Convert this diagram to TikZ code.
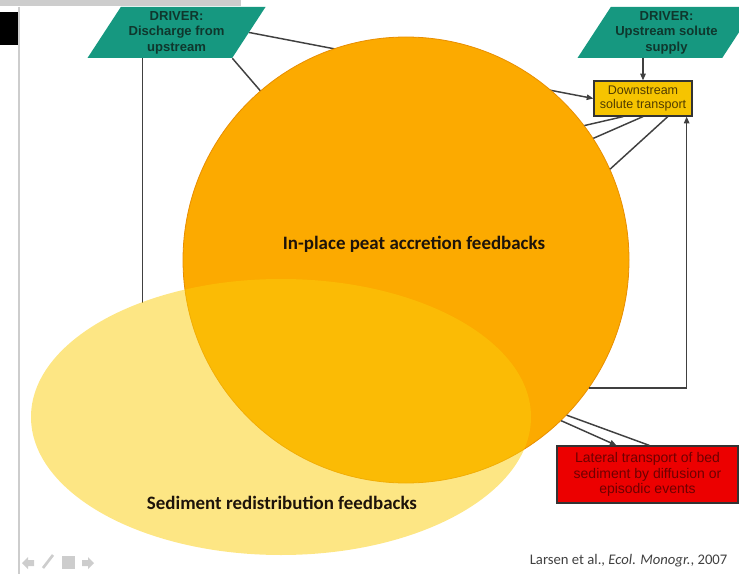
\documentclass[tikz,border=0pt]{standalone}
\usepackage{fontspec}
\setmainfont{Carlito}
\newfontfamily\boxfont{Liberation Sans}
\usetikzlibrary{shapes.geometric,arrows.meta,calc}

\definecolor{drivergreen}{RGB}{22,152,128}
\definecolor{drivertext}{RGB}{15,55,45}
\definecolor{peatorange}{RGB}{252,170,0}
\definecolor{peatedge}{RGB}{232,142,0}
\definecolor{sedyellow}{RGB}{251,205,10}
\definecolor{soluteyellow}{RGB}{246,196,0}
\definecolor{solutetext}{RGB}{80,60,0}
\definecolor{lateralred}{RGB}{236,0,0}
\definecolor{lateraltext}{RGB}{110,0,0}
\definecolor{wiregray}{RGB}{64,64,64}
\definecolor{framegray}{RGB}{205,205,205}

\begin{document}
\begin{tikzpicture}[x=0.75pt,y=-0.75pt,
    >={Triangle[length=5pt,width=4pt]},
    wire/.style={draw=wiregray, line width=1.1pt},
    driver/.style={trapezium, trapezium left angle=52, trapezium right angle=128,
        trapezium stretches body, fill=drivergreen, inner sep=0pt,
        minimum width={178*0.75pt}, minimum height={51*0.75pt}, align=center,
        text=drivertext, font=\boxfont\bfseries\fontsize{9.8}{11.6}\selectfont},
    solutebox/.style={rectangle, fill=soluteyellow, draw=black!80, line width=0.9pt,
        minimum width={98*0.75pt}, minimum height={35*0.75pt}, inner sep=1pt,
        align=center, text=solutetext, font=\boxfont\fontsize{9.4}{11.2}\selectfont},
    lateralbox/.style={rectangle, fill=lateralred, draw=black!80, line width=0.9pt,
        minimum width={181*0.75pt}, minimum height={57*0.75pt}, inner sep=1pt,
        align=center, text=lateraltext, font=\boxfont\fontsize{10.5}{11.4}\selectfont},
    feedback/.style={font=\bfseries\fontsize{14.2}{17}\selectfont, text=black!85!brown}
  ]
  \useasboundingbox (0,0) rectangle (739,574);

  % slide frame
  \fill[framegray] (0,0) rectangle (241,6);
  \fill[black] (0,12) rectangle (18,45);
  \draw[framegray, line width=1.2pt] (19,7) -- (19,574);

  % drivers and boxes
  \node[driver] (dis) at (176.5,32.5) {DRIVER:\\Discharge from\\upstream};
  \node[driver] (sup) at (666.5,32.5) {DRIVER:\\Upstream solute\\supply};
  \node[solutebox] (down) at (643,98.5) {Downstream\\solute transport};
  \node[lateralbox] (lat) at (647.5,474.5) {Lateral transport of bed\\sediment by diffusion or\\episodic events};

  % wires running under the feedback loops
  \coordinate (disfoot) at ($(dis.bottom left corner)!0.38!(dis.bottom right corner)$);
  \draw[wire, ->] (dis.east) -- (down.west);
  \draw[wire] (dis.bottom right corner) -- (406,260);
  \draw[wire] (disfoot) -- (disfoot |- 0,303);

  % feedback loops
  \node[circle, minimum size={446*0.75pt}, inner sep=0pt, fill=peatorange,
    draw=peatedge, line width=0.6pt] (peat) at (406,260) {};
  \node[ellipse, minimum width={500*0.75pt}, minimum height={276*0.75pt}, inner sep=0pt,
    fill=sedyellow, fill opacity=0.5] (sed) at (281,417) {};
  \node[feedback] (peatlabel) at (414,244) {In-place peat accretion feedbacks};
  \node[feedback] (sedlabel) at (282,503) {Sediment redistribution feedbacks};

  % wires out of the peat loop
  \draw[wire, ->] (down.north |- sup.south) -- (down.north);
  \draw[wire] (peat.37) -- ($(down.south west)!0.3!(down.south east)$);
  \draw[wire] (peat.33) -- (down.south);
  \draw[wire] (peat.24) -- ($(down.south west)!0.75!(down.south east)$);
  \draw[wire, ->] (peat.-35) -| ($(down.south west)!0.94!(down.south east)$);
  \draw[wire] (peat.-44) -- ($(lat.north west)!0.51!(lat.north east)$);
  \draw[wire, ->] (peat.-46) -- ($(lat.north west)!0.33!(lat.north east)$);

  % slide navigation icons
  \fill[framegray] (22,563) -- (28,557) -- (28,560) -- (34,560) -- (34,566) -- (28,566) -- (28,569) -- cycle;
  \draw[framegray, line width=2pt] (43,568) -- (53,555);
  \fill[framegray] (62,556) rectangle (75,569);
  \fill[framegray] (94,563) -- (88,557) -- (88,560) -- (82,560) -- (82,566) -- (88,566) -- (88,569) -- cycle;

  \node[anchor=east, text=black!75, font=\fontsize{11}{13}\selectfont] (cite) at (732,561)
    {Larsen et al., \textit{Ecol. Monogr.}, 2007};
\end{tikzpicture}
\end{document}
